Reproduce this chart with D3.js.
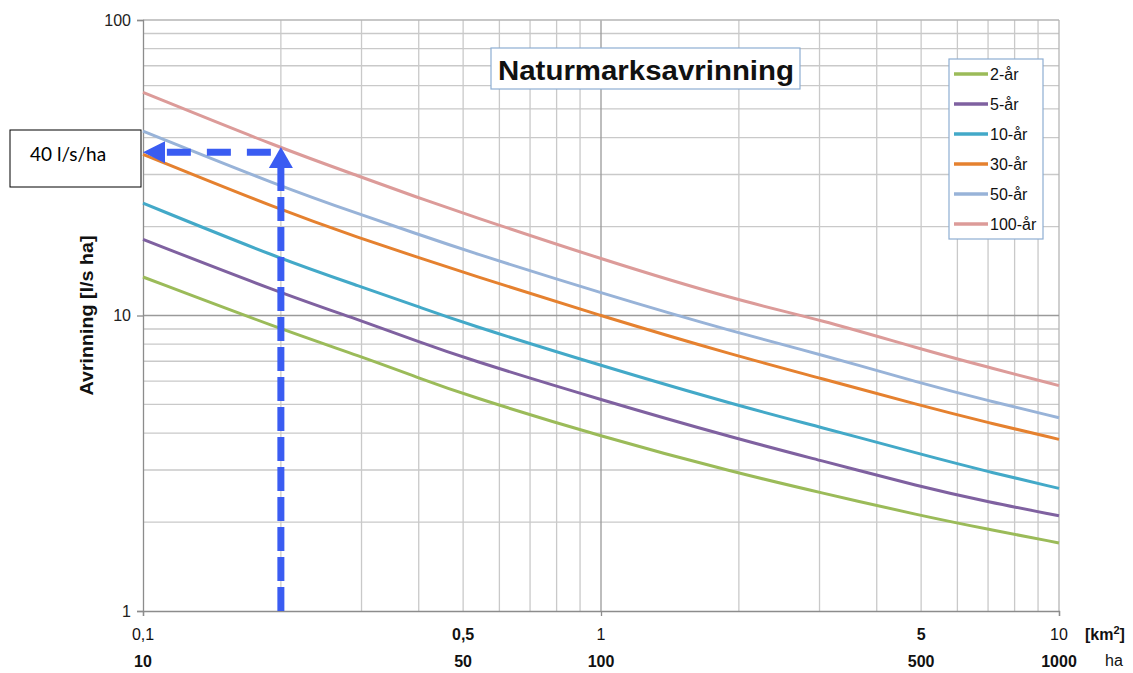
<!DOCTYPE html>
<html>
<head>
<meta charset="utf-8">
<script src="https://cdn.jsdelivr.net/npm/d3@7"></script>
<style>
  body { margin: 0; background: #fff; }
  svg { display: block; font-family: "Liberation Sans", Arial, sans-serif; }
</style>
</head>
<body>
<svg id="chart"></svg>
<script>
// area in km2 (x) and runoff l/s ha (y)
const areaKm2 = [0.1, 0.2, 0.3, 0.4, 0.5, 1, 2, 3, 5, 7, 10];
const series = ["2-år", "5-år", "10-år", "30-år", "50-år", "100-år"];
const ar2   = [13.5, 8.98, 7.26, 6.15, 5.42, 3.89, 2.92, 2.52, 2.10, 1.89, 1.70];
const ar5   = [18.1, 11.9, 9.6, 8.15, 7.2, 5.18, 3.81, 3.24, 2.63, 2.34, 2.10];
const ar10  = [24.0, 15.5, 12.5, 10.7, 9.45, 6.76, 4.94, 4.20, 3.39, 2.96, 2.60];
const ar30  = [35.1, 22.7, 18.2, 15.7, 14.0, 9.96, 7.26, 6.15, 4.95, 4.34, 3.81];
const ar50  = [42.1, 27.3, 21.9, 18.8, 16.7, 11.9, 8.70, 7.41, 5.89, 5.15, 4.51];
const ar100 = [56.9, 36.8, 29.4, 25.0, 22.2, 15.5, 11.2, 9.71, 7.69, 6.68, 5.79];
const seriesValues = [ar2, ar5, ar10, ar30, ar50, ar100];

const kmTicks = [0.1, 0.5, 1, 5, 10];
const kmLabels = ["0,1", "0,5", "1", "5", "10"];
const haLabels = ["10", "50", "100", "500", "1000"];
const yTicks = [1, 10, 100];

// the 40 l/s/ha reading
const readArea = 0.2;
const readTop = 37.2;
const readLevel = 35.7;
const readText = "40 l/s/ha";

const colors = ["#9bbb59", "#7f61a0", "#43a9c8", "#e5812f", "#98b3d8", "#dc9b99"];

const W = 1133, H = 673;
const svg = d3.select("#chart").attr("width", W).attr("height", H);
svg.append("rect").attr("width", W).attr("height", H).attr("fill", "#fff");

const x = d3.scaleLog().domain([0.1, 10]).range([143, 1059]);
const y = d3.scaleLog().domain([1, 100]).range([611, 20]);

// grid
let minorX = [], minorY = [];
[0.1, 1].forEach(d => { for (let k = 2; k <= 9; k++) minorX.push(d * k); });
[1, 10].forEach(d => { for (let k = 2; k <= 9; k++) minorY.push(d * k); });

const grid = svg.append("g");
grid.selectAll(".gx").data(minorX).join("line")
  .attr("x1", d => x(d)).attr("x2", d => x(d))
  .attr("y1", y(1)).attr("y2", y(100))
  .attr("stroke", "#c9c9c9").attr("stroke-width", 1.3);
grid.selectAll(".gy").data(minorY).join("line")
  .attr("x1", x(0.1)).attr("x2", x(10))
  .attr("y1", d => y(d)).attr("y2", d => y(d))
  .attr("stroke", "#c9c9c9").attr("stroke-width", 1.3);
// major
grid.append("line").attr("x1", x(1)).attr("x2", x(1)).attr("y1", y(1)).attr("y2", y(100))
  .attr("stroke", "#9a9a9a").attr("stroke-width", 1.3);
grid.append("line").attr("x1", x(10)).attr("x2", x(10)).attr("y1", y(1)).attr("y2", y(100))
  .attr("stroke", "#b5b5b5").attr("stroke-width", 1.3);
grid.append("line").attr("x1", x(0.1)).attr("x2", x(10)).attr("y1", y(10)).attr("y2", y(10))
  .attr("stroke", "#9a9a9a").attr("stroke-width", 1.3);
grid.append("line").attr("x1", x(0.1)).attr("x2", x(10)).attr("y1", y(100)).attr("y2", y(100))
  .attr("stroke", "#b5b5b5").attr("stroke-width", 1.3);

// axes
const yAxis = svg.append("g").attr("transform", `translate(${x(0.1)},0)`)
  .call(d3.axisLeft(y).tickValues(yTicks).tickSize(6).tickFormat(d3.format("d")));
yAxis.select(".domain").attr("stroke", "#8c8c8c").attr("stroke-width", 1.3);
yAxis.selectAll(".tick line").attr("stroke", "#8c8c8c").attr("stroke-width", 1.3);
yAxis.selectAll(".tick text").attr("x", -12).attr("font-size", 16)
  .attr("font-family", "Liberation Sans, Arial, sans-serif").attr("fill", "#222");

const xAxis = svg.append("g").attr("transform", `translate(0,${y(1)})`)
  .call(d3.axisBottom(x).tickValues([0.1, 1, 10]).tickSize(5).tickFormat(""));
xAxis.select(".domain").attr("stroke", "#8c8c8c").attr("stroke-width", 1.3);
xAxis.selectAll(".tick line").attr("stroke", "#8c8c8c").attr("stroke-width", 1.3);

const boldKm = new Set([0.5, 5]);
svg.append("g").selectAll("text").data(kmTicks).join("text")
  .attr("x", d => x(d)).attr("y", 640)
  .attr("text-anchor", "middle").attr("font-size", 16)
  .attr("font-weight", d => boldKm.has(d) ? "bold" : "normal")
  .attr("fill", "#111")
  .text((d, i) => kmLabels[i]);
svg.append("g").selectAll("text").data(kmTicks).join("text")
  .attr("x", d => x(d)).attr("y", 667)
  .attr("text-anchor", "middle").attr("font-size", 16)
  .attr("font-weight", "bold").attr("fill", "#111")
  .text((d, i) => haLabels[i]);

const km = svg.append("text").attr("x", 1085).attr("y", 640)
  .attr("font-size", 16).attr("font-weight", "bold").attr("fill", "#111");
km.append("tspan").text("[km");
km.append("tspan").attr("font-size", 11).attr("dy", -6).text("2");
km.append("tspan").attr("dy", 6).text("]");
svg.append("text").attr("x", 1105).attr("y", 666)
  .attr("font-size", 16).attr("fill", "#111").text("ha");

svg.append("text")
  .attr("transform", `translate(93,${y(10)}) rotate(-90)`)
  .attr("text-anchor", "middle").attr("font-size", 18).attr("font-weight", "bold")
  .attr("textLength", 160).attr("lengthAdjust", "spacingAndGlyphs")
  .attr("fill", "#111").text("Avrinning [l/s ha]");

// curves
const line = d3.line()
  .x((d, i) => x(areaKm2[i]))
  .y(d => y(d))
  .curve(d3.curveBasis);
svg.append("g").selectAll("path").data(seriesValues).join("path")
  .attr("d", d => line(d))
  .attr("fill", "none")
  .attr("stroke", (d, i) => colors[i])
  .attr("stroke-width", 3);

// title
svg.append("rect").attr("x", 491).attr("y", 48).attr("width", 309).attr("height", 41)
  .attr("fill", "#fff").attr("stroke", "#8eaed3").attr("stroke-width", 1.2);
svg.append("text").attr("x", 646).attr("y", 80)
  .attr("text-anchor", "middle").attr("font-size", 27).attr("font-weight", "bold")
  .attr("textLength", 296).attr("lengthAdjust", "spacingAndGlyphs")
  .attr("fill", "#111").text("Naturmarksavrinning");

// legend
const lg = svg.append("g").attr("transform", "translate(949,59)");
lg.append("rect").attr("width", 94).attr("height", 180)
  .attr("fill", "#fff").attr("stroke", "#8eaed3").attr("stroke-width", 1.2);
const item = lg.selectAll("g").data(series).join("g")
  .attr("transform", (d, i) => `translate(0,${15 + i * 30})`);
item.append("line").attr("x1", 5).attr("x2", 39)
  .attr("stroke", (d, i) => colors[i]).attr("stroke-width", 3.5);
item.append("text").attr("x", 41).attr("y", 6)
  .attr("font-size", 16).attr("fill", "#111").text(d => d);

// reading arrows
const blue = "#3a5cf2";
const arrows = svg.append("g");
arrows.append("line")
  .attr("x1", x(readArea)).attr("x2", x(readArea))
  .attr("y1", y(1)).attr("y2", y(readTop) + 18)
  .attr("stroke", blue).attr("stroke-width", 7).attr("stroke-dasharray", "24,6");
arrows.append("path")
  .attr("d", `M${x(readArea)},${y(readTop)} L${x(readArea) + 12},${y(readTop) + 21} L${x(readArea) - 12},${y(readTop) + 21}Z`)
  .attr("fill", blue);
arrows.append("line")
  .attr("x1", x(readArea)).attr("x2", x(0.1) + 20)
  .attr("y1", y(readLevel)).attr("y2", y(readLevel))
  .attr("stroke", blue).attr("stroke-width", 7).attr("stroke-dasharray", "0,10,24,6");
arrows.append("path")
  .attr("d", `M${x(0.1)},${y(readLevel)} L${x(0.1) + 22},${y(readLevel) - 11} L${x(0.1) + 22},${y(readLevel) + 11}Z`)
  .attr("fill", blue);

// note box
svg.append("rect").attr("x", 10).attr("y", 130).attr("width", 131).attr("height", 57)
  .attr("fill", "#fff").attr("stroke", "#000").attr("stroke-width", 1);
svg.append("text").attr("x", 30).attr("y", 161)
  .attr("font-family", "Lato, 'Open Sans', sans-serif").attr("font-size", 19)
  .attr("fill", "#000").text(readText);
</script>
</body>
</html>
